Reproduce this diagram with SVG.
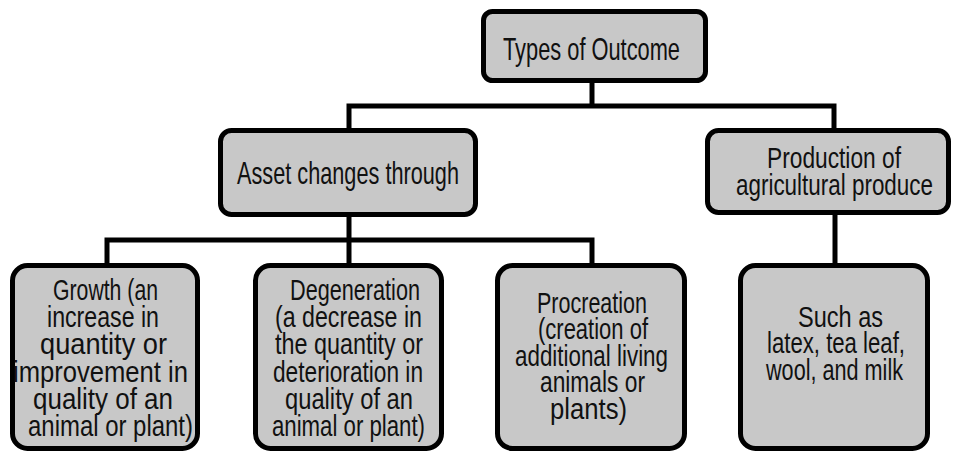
<svg xmlns="http://www.w3.org/2000/svg" width="953" height="452" viewBox="0 0 953 452">
<style>
.box{fill:#c8c8c8;stroke:#000;stroke-width:5}
.t{font-family:"Liberation Sans",Arial,sans-serif;fill:#111;}
.big{font-size:32px}
.sm{font-size:29px}
.c{fill:none;stroke:#000;stroke-width:5;stroke-linejoin:miter;stroke-linecap:butt}
</style>
<rect width="953" height="452" fill="#fff"/>
<g id="connectors">
<line class="c" x1="592" y1="82" x2="592" y2="106"/>
<polyline class="c" points="349,130 349,106 834,106 834,130"/>
<line class="c" x1="349" y1="215" x2="349" y2="265"/>
<polyline class="c" points="107,265 107,240 592,240 592,265"/>
<line class="c" x1="835" y1="213" x2="835" y2="265"/>
</g>
<g id="types">
<rect class="box" x="483.5" y="11.5" width="222" height="69" rx="9"/>
<text class="t big" x="503" y="60" textLength="177" lengthAdjust="spacingAndGlyphs">Types of Outcome</text>
</g>
<g id="asset">
<rect class="box" x="220.5" y="130.5" width="255" height="84" rx="11"/>
<text class="t big" x="237" y="184" textLength="222" lengthAdjust="spacingAndGlyphs">Asset changes through</text>
</g>
<g id="production">
<rect class="box" x="707.5" y="130.5" width="241" height="82" rx="11"/>
<text class="t sm" x="767" y="168" textLength="134" lengthAdjust="spacingAndGlyphs">Production  of</text>
<text class="t sm" x="736" y="195" textLength="197" lengthAdjust="spacingAndGlyphs">agricultural  produce</text>
</g>
<g id="growth">
<rect class="box" x="12.5" y="265.5" width="185" height="183" rx="15"/>
<text class="t sm" x="53" y="300" textLength="105" lengthAdjust="spacingAndGlyphs">Growth (an</text>
<text class="t sm" x="47" y="327" textLength="112" lengthAdjust="spacingAndGlyphs">increase in</text>
<text class="t sm" x="40" y="354" textLength="127" lengthAdjust="spacingAndGlyphs">quantity  or</text>
<text class="t sm" x="13" y="382" textLength="175" lengthAdjust="spacingAndGlyphs">improvement in</text>
<text class="t sm" x="33" y="409" textLength="140" lengthAdjust="spacingAndGlyphs">quality of  an</text>
<text class="t sm" x="28" y="436" textLength="165" lengthAdjust="spacingAndGlyphs">animal or plant)</text>
</g>
<g id="degeneration">
<rect class="box" x="255.5" y="265.5" width="186" height="183" rx="15"/>
<text class="t sm" x="290" y="300" textLength="130" lengthAdjust="spacingAndGlyphs">Degeneration</text>
<text class="t sm" x="275" y="327" textLength="147" lengthAdjust="spacingAndGlyphs">(a decrease  in</text>
<text class="t sm" x="275" y="354" textLength="148" lengthAdjust="spacingAndGlyphs">the  quantity  or</text>
<text class="t sm" x="273" y="382" textLength="150" lengthAdjust="spacingAndGlyphs">deterioration  in</text>
<text class="t sm" x="285" y="409" textLength="128" lengthAdjust="spacingAndGlyphs">quality  of  an</text>
<text class="t sm" x="272" y="436" textLength="153" lengthAdjust="spacingAndGlyphs">animal  or plant)</text>
</g>
<g id="procreation">
<rect class="box" x="497.5" y="265.5" width="187" height="183" rx="15"/>
<text class="t sm" x="537" y="313" textLength="110" lengthAdjust="spacingAndGlyphs">Procreation</text>
<text class="t sm" x="538" y="339" textLength="110" lengthAdjust="spacingAndGlyphs">(creation  of</text>
<text class="t sm" x="515" y="366" textLength="153" lengthAdjust="spacingAndGlyphs">additional  living</text>
<text class="t sm" x="540" y="392" textLength="105" lengthAdjust="spacingAndGlyphs">animals  or</text>
<text class="t sm" x="550" y="419" textLength="77" lengthAdjust="spacingAndGlyphs">plants)</text>
</g>
<g id="such">
<rect class="box" x="740.5" y="265.5" width="187" height="183" rx="15"/>
<text class="t sm" x="798" y="327" textLength="85" lengthAdjust="spacingAndGlyphs">Such  as</text>
<text class="t sm" x="767" y="353" textLength="138" lengthAdjust="spacingAndGlyphs">latex, tea leaf,</text>
<text class="t sm" x="766" y="380" textLength="137" lengthAdjust="spacingAndGlyphs">wool, and milk</text>
</g>
</svg>
